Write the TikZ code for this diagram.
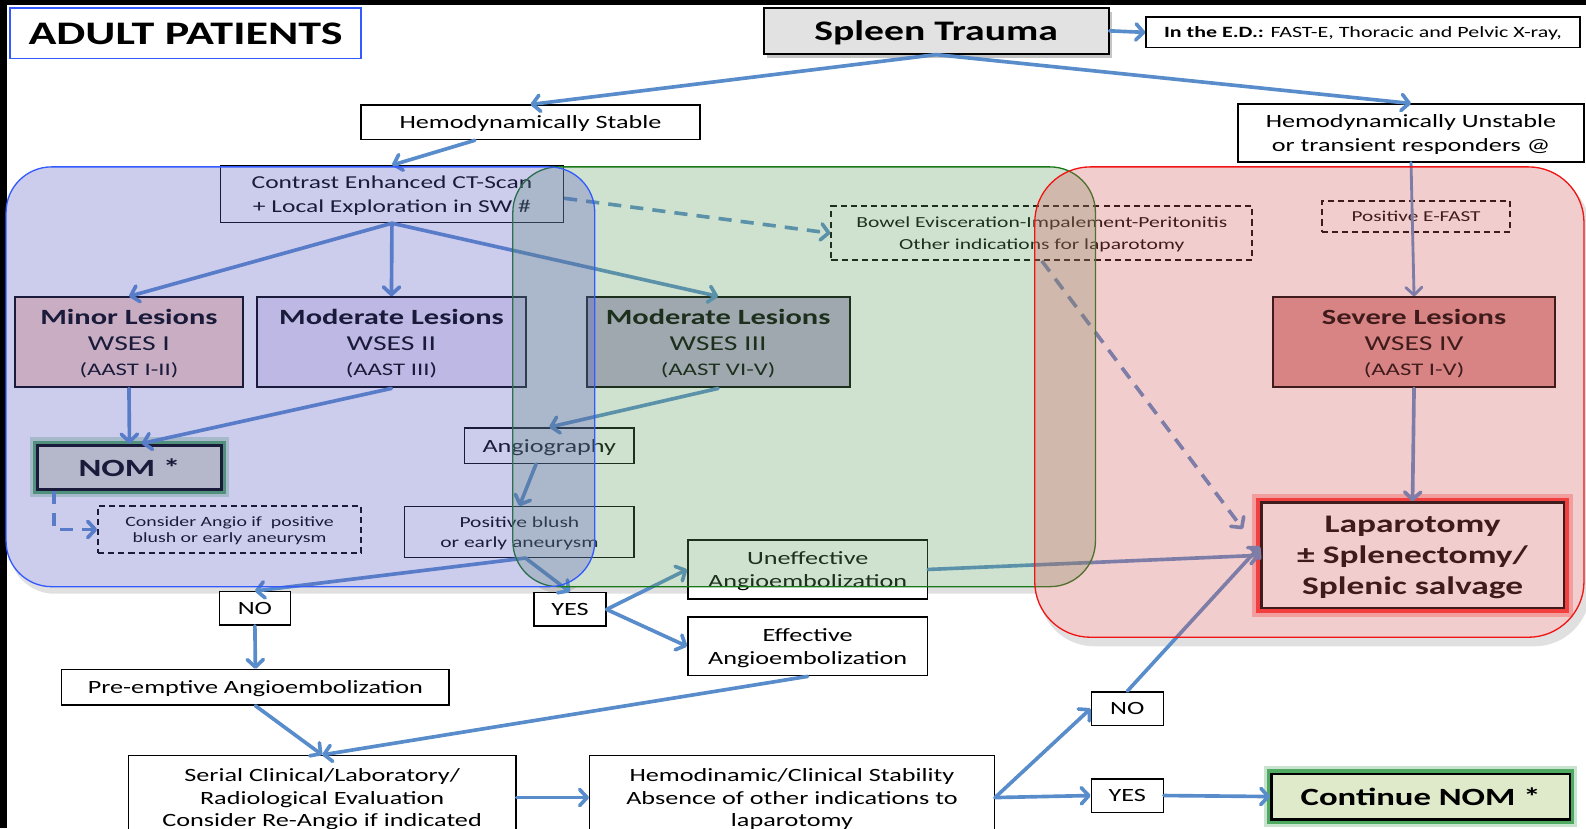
\documentclass[tikz,border=0pt]{standalone}
\usepackage{fontspec}
\setmainfont{Carlito}[FakeStretch=1.4]
\usetikzlibrary{arrows.meta,calc,shadows}
\definecolor{arrowblue}{RGB}{88,140,202}
\definecolor{blueov}{RGB}{88,88,198}
\definecolor{greenov}{RGB}{98,162,98}
\definecolor{redov}{RGB}{212,92,92}
\definecolor{blueline}{RGB}{50,90,255}
\definecolor{greenline}{RGB}{25,120,25}
\definecolor{redline}{RGB}{240,20,20}
\definecolor{minorfill}{RGB}{250,212,195}
\definecolor{modIIfill}{RGB}{235,226,242}
\definecolor{modIIIfill}{RGB}{185,172,208}
\definecolor{sevfill}{RGB}{219,150,150}
\definecolor{nomfill}{RGB}{222,226,205}
\definecolor{contfill}{RGB}{222,234,202}
\definecolor{spleenfill}{RGB}{226,226,226}
\definecolor{glowgreen}{RGB}{40,150,60}
\definecolor{glowred}{RGB}{255,30,30}
\newcommand\fsz[2]{\fontsize{#1}{#2}\selectfont}
\begin{document}
\begin{tikzpicture}[x=1pt,y=-1pt,
  box/.style={draw=black, line width=1.4pt, fill=white, inner sep=0pt, align=center,
              text depth=0pt, font=\fsz{18.5}{23}},
  dbox/.style={box, line width=1.9pt, dash pattern=on 6pt off 4pt},
  les/.style={box, line width=2pt, font=\fsz{21}{25.5}},
  glowg/.style={preaction={draw=glowgreen, line width=15pt, draw opacity=0.25},
                preaction={draw=glowgreen, line width=9pt, draw opacity=0.75}},
  glowr/.style={preaction={draw=glowred, line width=18pt, draw opacity=0.3},
                preaction={draw=glowred, line width=10pt, draw opacity=0.85}},
  arr/.style={draw=arrowblue, line width=3.6pt, line cap=round,
              -{Straight Barb[length=7.5pt,width=16pt,round]}},
  darr/.style={arr, line cap=butt, dash pattern=on 13pt off 9pt},
  grp/.style={line width=1.3pt, fill opacity=0.3},
  gshadow/.style={fill=black, opacity=0.12},
]
\useasboundingbox (0,0) rectangle (1568,819);
\clip (0,0) rectangle (1568,819);
\fill[black] (0,0) rectangle (1568,819);
\fill[white] (7,5) rectangle (1568,819);

% group shadows and white bases
\fill[gshadow, rounded corners=45pt] (9,171) rectangle (592,587);
\fill[gshadow, rounded corners=45pt] (511,171) rectangle (1087,587);
\fill[gshadow, rounded corners=55pt] (1027,172) rectangle (1572,639);
\fill[white, rounded corners=45pt] (6,165) rectangle (588,580);
\fill[white, rounded corners=45pt] (507,165) rectangle (1083,580);
\fill[white, rounded corners=55pt] (1023,165) rectangle (1566,630);

% nodes
\node[box, draw=blueline, line width=1.5pt, minimum width=347pt, minimum height=50pt,
      font=\fsz{32.5}{36}\bfseries] (adult) at (183.5,33) {ADULT PATIENTS};
\node[box, fill=spleenfill, line width=2pt, minimum width=341pt, minimum height=45pt,
      font=\fsz{28}{32}\bfseries,
      drop shadow={shadow xshift=3pt, shadow yshift=-4pt, opacity=0.45}] (spleen) at (925.5,30.5) {Spleen Trauma};
\node[box, minimum width=429pt, minimum height=30pt, font=\fsz{15.5}{17}] (ed) at (1347.5,32)
      {\textbf{In the E.D.:} FAST-E, Thoracic and Pelvic X-ray,};
\node[box, minimum width=335pt, minimum height=34pt] (hs) at (524.5,121) {Hemodynamically Stable};
\node[box, minimum width=342pt, minimum height=57pt] (hu) at (1395,131.5)
      {Hemodynamically Unstable\\or transient responders @};
\node[box, minimum width=339pt, minimum height=56pt, font=\fsz{18}{23}] (ct) at (387.5,192)
      {Contrast Enhanced CT-Scan\\+ Local Exploration in SW \#};
\node[les, fill=minorfill, minimum width=225pt, minimum height=89pt] (minor) at (127.5,338.5)
      {{\fsz{21.5}{25.5}\bfseries Minor Lesions}\\WSES I\\{\fsz{17.5}{25.5}(AAST I-II)}};
\node[les, fill=modIIfill, minimum width=266pt, minimum height=89pt] (mod2) at (387,338.5)
      {{\fsz{21.5}{25.5}\bfseries Moderate Lesions}\\WSES II\\{\fsz{17.5}{25.5}(AAST III)}};
\node[les, fill=modIIIfill, minimum width=260pt, minimum height=89pt] (mod3) at (710,338.5)
      {{\fsz{21.5}{25.5}\bfseries Moderate Lesions}\\WSES III\\{\fsz{17.5}{25.5}(AAST VI-V)}};
\node[les, fill=sevfill, minimum width=278pt, minimum height=89pt] (sev) at (1398,338.5)
      {{\fsz{21.5}{25.5}\bfseries Severe Lesions}\\WSES IV\\{\fsz{17.5}{25.5}(AAST I-V)}};
\node[box, glowg, fill=nomfill, line width=3pt, minimum width=182pt, minimum height=44pt,
      font=\fsz{24.5}{28}\bfseries] (nom) at (128,462) {NOM *};
\node[dbox, minimum width=260pt, minimum height=47pt, font=\fsz{14}{16}] (cons) at (227,523.5)
      {Consider Angio if \ positive\\blush or early aneurysm};
\node[box, minimum width=168pt, minimum height=35pt] (angio) at (543,440.5) {Angiography};
\node[box, minimum width=227pt, minimum height=50pt, font=\fsz{15.2}{20}] (pb) at (513.5,526)
      {Positive blush\\or early aneurysm};
\node[box, minimum width=70pt, minimum height=33pt] (no1) at (252,601.5) {NO};
\node[box, minimum width=71pt, minimum height=33pt] (yes1) at (563.5,602.5) {YES};
\node[box, minimum width=237pt, minimum height=58pt] (uneff) at (798.5,563)
      {Uneffective\\Angioembolization};
\node[box, minimum width=237pt, minimum height=58pt] (eff) at (798.5,639)
      {Effective\\Angioembolization};
\node[box, minimum width=383pt, minimum height=35pt] (pre) at (252.5,679.5)
      {Pre-emptive Angioembolization};
\node[box, minimum width=383pt, minimum height=83pt, font=\fsz{18.5}{22}] (serial) at (318.5,788.5)
      {Serial Clinical/Laboratory/\\Radiological Evaluation\\Consider Re-Angio if indicated};
\node[box, minimum width=400pt, minimum height=83pt, font=\fsz{18.5}{22}] (hemo) at (783,788.5)
      {Hemodinamic/Clinical Stability\\Absence of other indications to\\laparotomy};
\node[box, minimum width=71pt, minimum height=33pt] (no2) at (1114.5,700.5) {NO};
\node[box, minimum width=71pt, minimum height=33pt] (yes2) at (1114.5,786.5) {YES};
\node[box, glowg, fill=contfill, line width=2.5pt, minimum width=295pt, minimum height=45pt,
      font=\fsz{24.5}{28}\bfseries] (cont) at (1404.5,787.5) {Continue NOM *};
\node[dbox, minimum width=416pt, minimum height=53pt, font=\fsz{15.2}{22}] (bowel) at (1030,230.5)
      {Bowel Evisceration-Impalement-Peritonitis\\Other indications for laparotomy};
\node[dbox, minimum width=186pt, minimum height=30pt, font=\fsz{15}{17}] (efast) at (1400,214)
      {Positive E-FAST};
\node[box, glowr, line width=2.5pt, minimum width=299pt, minimum height=104pt,
      font=\fsz{25}{30.5}\bfseries] (lap) at (1396.5,549)
      {Laparotomy\\± Splenectomy/\\Splenic salvage};

% connectors
\draw[arr] (spleen.south) -- (hs.north);
\draw[arr] (spleen.south) -- (hu.north);
\draw[arr] (spleen.east) -- (ed.west);
\draw[arr] ([xshift=-55pt]hs.south) -- (ct.north);
\draw[arr] (ct.south) -- (minor.north);
\draw[arr] (ct.south) -- (mod2.north);
\draw[arr] (ct.south) -- (mod3.north);
\draw[darr] ([yshift=-4pt]ct.east) -- (bowel.west);
\draw[darr] (bowel.south) -- ([xshift=-17pt,yshift=26pt]lap.west);
\draw[arr, line width=2.8pt] (hu.south) -- (sev.north);
\draw[arr] (sev.south) -- (lap.north);
\draw[arr] (minor.south) -- (nom.north);
\draw[arr] (mod2.south) -- ([xshift=12pt]nom.north);
\draw[arr] (mod3.south) -- (angio.north);
\draw[arr] ([xshift=-13pt]angio.south) -- (pb.north);
\draw[arr] ([xshift=6pt]pb.south) -- (no1.north);
\draw[arr] ([xshift=6pt]pb.south) -- (yes1.north);
\draw[arr] (no1.south) -- (pre.north);
\draw[arr] (yes1.east) -- (uneff.west);
\draw[arr] (yes1.east) -- (eff.west);
\draw[arr] (uneff.east) -- (lap.west);
\draw[arr] (eff.south) -- (serial.north);
\draw[arr] (pre.south) -- (serial.north);
\draw[arr] (serial.east) -- (hemo.west);
\draw[arr] (hemo.east) -- (no2.west);
\draw[arr] (hemo.east) -- (yes2.west);
\draw[arr] (no2.north) -- ([yshift=9pt]lap.west);
\draw[arr] (yes2.east) -- (cont.west);
\draw[darr] ([xshift=18pt]nom.south west) |- (cons.west);

% translucent groups on top
\draw[grp, draw=greenline, fill=greenov, rounded corners=45pt] (507,165) rectangle (1083,580);
\draw[grp, draw=blueline, fill=blueov, rounded corners=45pt] (6,165) rectangle (588,580);
\draw[grp, draw=redline, fill=redov, rounded corners=55pt] (1023,165) rectangle (1566,630);
\end{tikzpicture}
\end{document}
